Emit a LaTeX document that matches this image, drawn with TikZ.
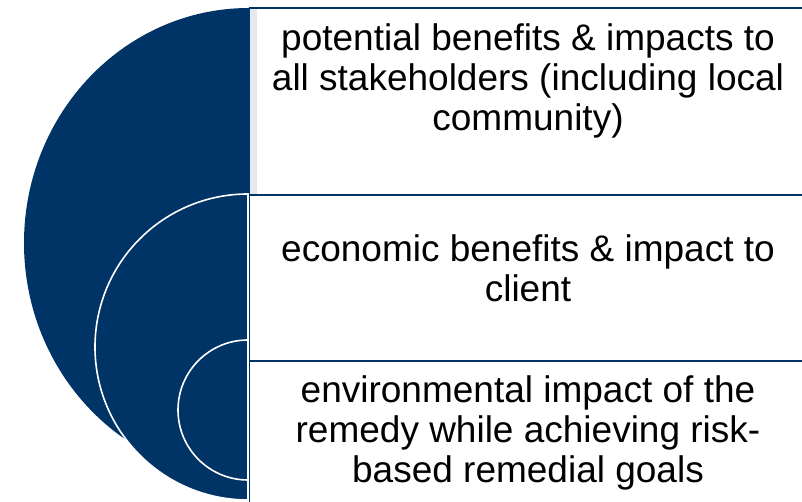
\documentclass[tikz,border=0pt]{standalone}
\usepackage{fontspec}
\setmainfont{Liberation Sans}
\definecolor{navy}{RGB}{0,51,102}
\definecolor{stripgray}{RGB}{228,233,239}
\begin{document}
\begin{tikzpicture}[x=1pt,y=1pt,
  disc/.style={fill=navy,draw=white,line width=1.6pt},
  panel/.style={fill=white,draw=navy,line width=1.6pt},
  label/.style={align=center,font=\fontsize{37}{40}\selectfont,text=black}]
\useasboundingbox (0,0) rectangle (802,502);
\clip (0,0) rectangle (802,502);
% text panels on the right
\path[panel] (249.5,494) rectangle (812,307) coordinate (p1);
\fill[stripgray] (250.3,493) rectangle (257,307.8);
\path[panel] (249.5,307) rectangle (812,141) coordinate (p2);
\path[panel] (249.5,141) rectangle (812,-10) coordinate (p3);
% nested half discs
\path[fill=navy] (249,494) arc[start angle=90,end angle=270,x radius=225,y radius=235] -- cycle;
\path[disc] (248,308) arc[start angle=90,end angle=270,radius=153] -- cycle;
\path[disc] (248,162) arc[start angle=90,end angle=270,radius=70] -- cycle;
% labels
\node[label] (t1) at (528,421) {potential benefits \& impacts to\\all stakeholders (including local\\community)};
\node[label] (t2) at (528,234) {economic benefits \& impact to\\client};
\node[label] (t3) at (528,69) {environmental impact of the\\remedy while achieving risk-\\based remedial goals};
\end{tikzpicture}
\end{document}
